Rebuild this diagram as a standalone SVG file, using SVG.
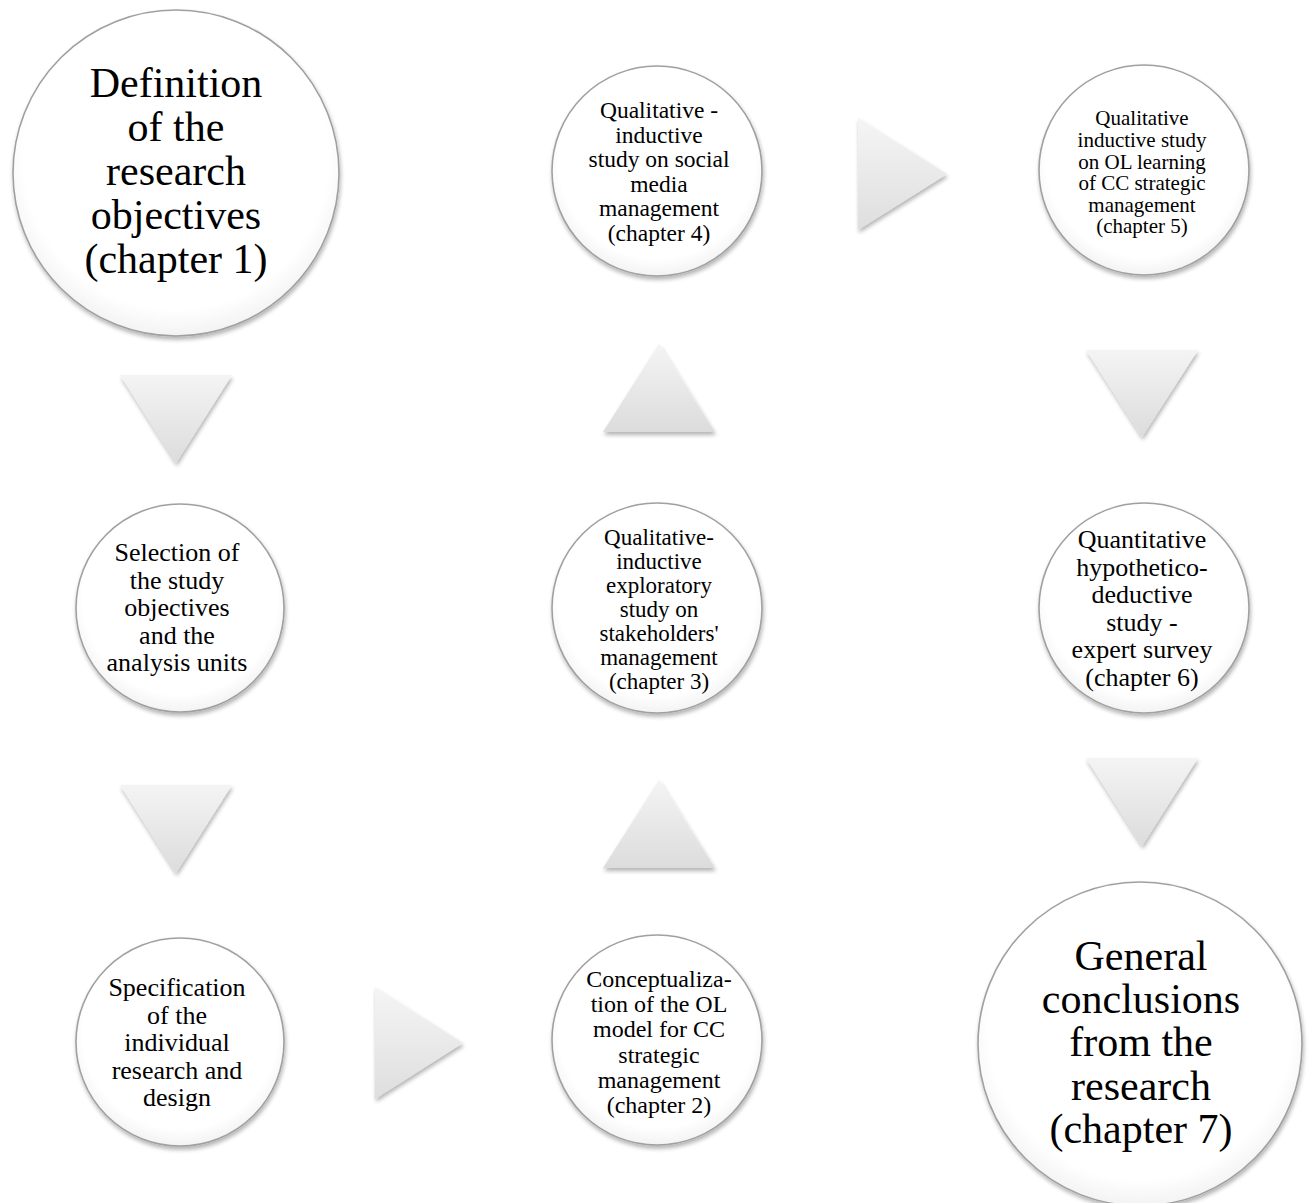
<svg xmlns="http://www.w3.org/2000/svg" width="1312" height="1203" viewBox="0 0 1312 1203">
<defs>
<radialGradient id="cg" cx="50%" cy="45%" r="55%">
<stop offset="0" stop-color="#ffffff"/>
<stop offset="0.85" stop-color="#ffffff"/>
<stop offset="1" stop-color="#f3f3f3"/>
</radialGradient>
<linearGradient id="tg" x1="0" y1="0" x2="0" y2="1">
<stop offset="0" stop-color="#f4f4f4"/>
<stop offset="1" stop-color="#dcdcdc"/>
</linearGradient>
<linearGradient id="rg" x1="0" y1="0" x2="0" y2="1">
<stop offset="0" stop-color="#f5f5f5"/>
<stop offset="1" stop-color="#dedede"/>
</linearGradient>
<filter id="sh" x="-20%" y="-20%" width="140%" height="140%">
<feGaussianBlur in="SourceAlpha" stdDeviation="2"/>
<feOffset dx="1" dy="2.5" result="b"/>
<feComponentTransfer><feFuncA type="linear" slope="0.3"/></feComponentTransfer>
<feMerge><feMergeNode/><feMergeNode in="SourceGraphic"/></feMerge>
</filter>
</defs>
<style>
.c{fill:url(#cg);stroke:#a0a0a0;stroke-width:1.6;filter:url(#sh)}
.t{fill:url(#tg);filter:url(#sh)}
.r{fill:url(#rg);filter:url(#sh)}
text{fill:#000;text-anchor:middle}
.big{font-size:42px}
.m{font-size:26px}
.s4{font-size:23.5px}
.s5{font-size:21px}
.s2{font-size:24px}
.s3{font-size:23px}
</style>
<rect width="1312" height="1203" fill="#ffffff"/>
<g id="connectors">
<polygon class="t" points="120,375 232,375 176,463"/>
<polygon class="t" points="120,785 232,785 176,873"/>
<polygon class="r" points="375,987 375,1099 463,1043"/>
<polygon class="t" points="603,868 715,868 659,780"/>
<polygon class="t" points="603,432 715,432 659,344"/>
<polygon class="r" points="858,118 858,230 947,174"/>
<polygon class="t" points="1086,350 1198,350 1142,437"/>
<polygon class="t" points="1086,758 1198,758 1142,846"/>
</g>
<g font-family="Liberation Serif, Times New Roman, serif">
<g id="n1">
<circle class="c" cx="176" cy="173" r="163"/>
<text class="big"><tspan x="176" y="97">Definition</tspan><tspan x="176" y="141">of the</tspan><tspan x="176" y="185">research</tspan><tspan x="176" y="229">objectives</tspan><tspan x="176" y="273">(chapter 1)</tspan></text>
</g>
<g id="n2">
<circle class="c" cx="180" cy="608" r="104"/>
<text class="m"><tspan x="177" y="561">Selection of</tspan><tspan x="177" y="588.5">the study</tspan><tspan x="177" y="616">objectives</tspan><tspan x="177" y="643.5">and the</tspan><tspan x="177" y="671">analysis units</tspan></text>
</g>
<g id="n3">
<circle class="c" cx="180" cy="1042" r="104"/>
<text class="m"><tspan x="177" y="996">Specification</tspan><tspan x="177" y="1023.5">of the</tspan><tspan x="177" y="1051">individual</tspan><tspan x="177" y="1078.5">research and</tspan><tspan x="177" y="1106">design</tspan></text>
</g>
<g id="n4">
<circle class="c" cx="657" cy="1040" r="105"/>
<text class="s2"><tspan x="659" y="987">Conceptualiza-</tspan><tspan x="659" y="1012">tion of the OL</tspan><tspan x="659" y="1037">model for CC</tspan><tspan x="659" y="1062.5">strategic</tspan><tspan x="659" y="1088">management</tspan><tspan x="659" y="1113">(chapter 2)</tspan></text>
</g>
<g id="n5">
<circle class="c" cx="657" cy="608" r="105"/>
<text class="s3"><tspan x="659" y="545">Qualitative-</tspan><tspan x="659" y="569">inductive</tspan><tspan x="659" y="593">exploratory</tspan><tspan x="659" y="617">study on</tspan><tspan x="659" y="641">stakeholders'</tspan><tspan x="659" y="665">management</tspan><tspan x="659" y="689">(chapter 3)</tspan></text>
</g>
<g id="n6">
<circle class="c" cx="657" cy="171" r="105"/>
<text class="s4"><tspan x="659" y="118">Qualitative -</tspan><tspan x="659" y="143">inductive</tspan><tspan x="659" y="167">study on social</tspan><tspan x="659" y="192">media</tspan><tspan x="659" y="216">management</tspan><tspan x="659" y="241">(chapter 4)</tspan></text>
</g>
<g id="n7">
<circle class="c" cx="1144" cy="170" r="105"/>
<text class="s5"><tspan x="1142" y="125">Qualitative</tspan><tspan x="1142" y="147">inductive study</tspan><tspan x="1142" y="168.5">on OL learning</tspan><tspan x="1142" y="190">of CC strategic</tspan><tspan x="1142" y="211.5">management</tspan><tspan x="1142" y="233">(chapter 5)</tspan></text>
</g>
<g id="n8">
<circle class="c" cx="1144" cy="608" r="105"/>
<text class="m"><tspan x="1142" y="548">Quantitative</tspan><tspan x="1142" y="575.5">hypothetico-</tspan><tspan x="1142" y="603">deductive</tspan><tspan x="1142" y="630.5">study -</tspan><tspan x="1142" y="658">expert survey</tspan><tspan x="1142" y="685.5">(chapter 6)</tspan></text>
</g>
<g id="n9">
<circle class="c" cx="1140" cy="1044" r="162"/>
<text class="big"><tspan x="1141" y="970">General</tspan><tspan x="1141" y="1013">conclusions</tspan><tspan x="1141" y="1056">from the</tspan><tspan x="1141" y="1100">research</tspan><tspan x="1141" y="1143">(chapter 7)</tspan></text>
</g>
</g>
</svg>
